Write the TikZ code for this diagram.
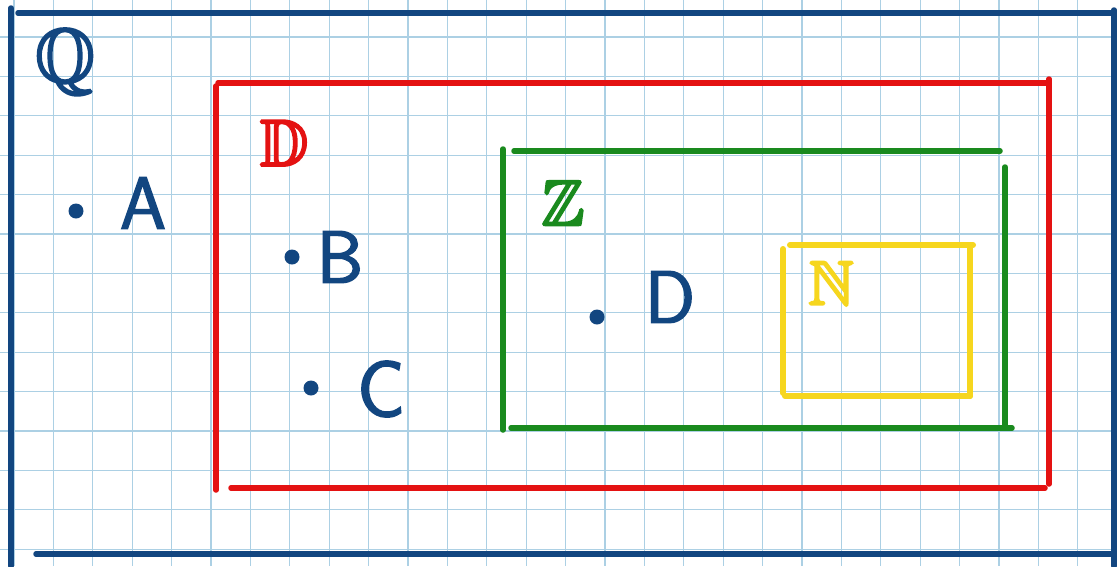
\documentclass[tikz,border=0pt]{standalone}
\usepackage{amssymb}
\definecolor{gridblue}{RGB}{172,208,228}
\definecolor{navy}{RGB}{18,70,128}
\definecolor{sred}{RGB}{228,18,18}
\definecolor{sgreen}{RGB}{26,138,30}
\definecolor{syellow}{RGB}{246,214,30}
\newcommand\heavytext[2]{\special{pdf:literal direct #1 w 2 Tr}#2\special{pdf:literal direct 0 Tr}}
\begin{document}
\begin{tikzpicture}[x=1pt,y=-1pt,
  gridline/.style={draw=gridblue,line width=1.1pt},
  pen/.style={line width=5.5pt,line cap=round},
  dotmark/.style={circle,fill=navy,inner sep=0pt,minimum size=15pt},
  pointlabel/.style={text=navy,inner sep=0pt,font=\fontsize{74}{74}\selectfont\sffamily},
  setlabel/.style={inner sep=0pt,font=\fontsize{66}{66}\selectfont}]
\useasboundingbox (0,0) rectangle (1117,566);
\fill[white] (0,0) rectangle (1117,566);
% grid
\foreach \k in {-1,...,27} {\draw[gridline] (53.4+39.4*\k,0) -- (53.4+39.4*\k,566);}
\foreach \k in {-1,...,13} {\draw[gridline] (0,37+39.4*\k) -- (1117,37+39.4*\k);}
% navy frame Q
\draw[pen,navy] (11,8) -- (11,566);
\draw[pen,navy] (18,13) -- (1117,13);
\draw[pen,navy] (1114,10) -- (1114,566);
\draw[pen,navy] (36,554) -- (1117,554);
% red frame D
\draw[pen,sred] (216,86) -- (216,490);
\draw[pen,sred] (218,83) -- (1048,83);
\draw[pen,sred] (1049,79) -- (1049,484);
\draw[pen,sred] (231,488) -- (1045,488);
% green frame Z
\draw[pen,sgreen] (503,149) -- (503,430);
\draw[pen,sgreen] (514,151) -- (1000,151);
\draw[pen,sgreen] (1005,167) -- (1005,428);
\draw[pen,sgreen] (511,428) -- (1012,428);
% yellow frame N
\draw[pen,syellow,line width=6pt] (783,249) -- (783,393);
\draw[pen,syellow,line width=6pt] (790,245) -- (973,245);
\draw[pen,syellow,line width=6pt] (970,248) -- (970,396);
\draw[pen,syellow,line width=6pt] (785,396) -- (970,396);
% set labels
\node[setlabel,text=navy,font=\fontsize{76}{76}\selectfont] (lq) at (65,62) {\color{navy}\heavytext{2.5}{$\mathbb{Q}$}};
\node[setlabel,text=sred] (ld) at (284,143) {\color{sred}\heavytext{2.5}{$\mathbb{D}$}};
\node[setlabel,text=sgreen,font=\fontsize{64}{64}\selectfont] (lz) at (563,203) {\color{sgreen}\heavytext{2.5}{$\mathbb{Z}$}};
\node[setlabel,text=syellow,font=\fontsize{62}{62}\selectfont] (ln) at (831,283) {\color{syellow}\heavytext{2.5}{$\mathbb{N}$}};
% points
\node[dotmark] (pa) at (76,211) {};
\node[pointlabel] (la) at (143,203) {\color{navy}\heavytext{1.5}{A}};
\node[dotmark] (pb) at (292,257) {};
\node[pointlabel] (lb) at (340,257) {\color{navy}\heavytext{1.5}{B}};
\node[dotmark] (pc) at (311,388) {};
\node[pointlabel,font=\fontsize{80}{80}\selectfont\sffamily] (lc) at (381,389) {\color{navy}\heavytext{1.5}{C}};
\node[dotmark] (pd) at (597,317) {};
\node[pointlabel] (ldd) at (670,297) {\color{navy}\heavytext{1.5}{D}};
\end{tikzpicture}
\end{document}
